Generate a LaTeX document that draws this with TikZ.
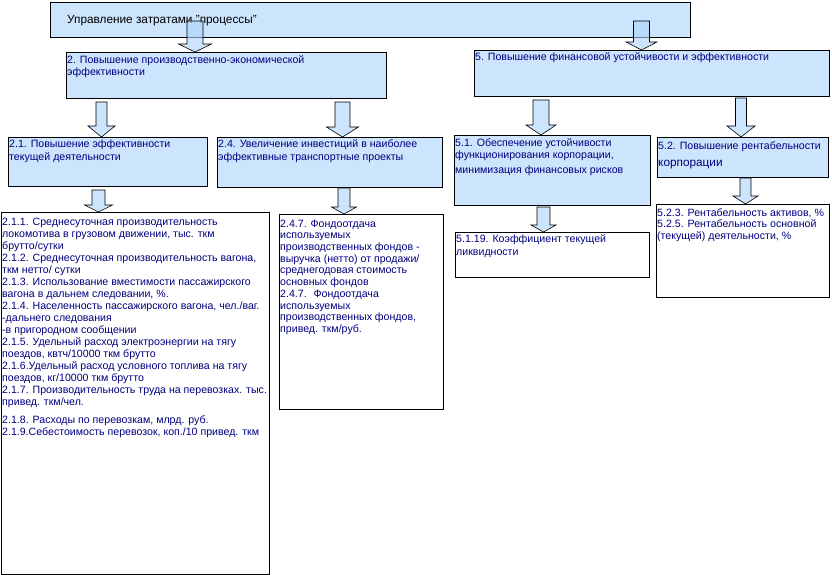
\documentclass[tikz,border=0pt]{standalone}
\usepackage{fontspec}
\setmainfont{Liberation Sans}
\usetikzlibrary{calc}
\definecolor{boxblue}{RGB}{204,228,252}
\definecolor{arrowblue}{RGB}{170,210,250}
\definecolor{txtblue}{RGB}{0,0,128}
\begin{document}
\begin{tikzpicture}[x=1pt,y=-1pt,
  box/.style={draw, line width=0.8pt, fill=boxblue, anchor=north west, inner sep=0pt},
  listbox/.style={draw, line width=0.8pt, fill=white, anchor=north west, inner sep=0pt},
  txt/.style={anchor=north west, align=left, inner sep=0pt, text=txtblue, font=\fontsize{10.6}{12}\selectfont},
  blockarrow/.style n args={3}{draw, line width=0.6pt, fill=arrowblue, fill opacity=0.6,
    to path={let \p1=(\tikztostart), \p2=(\tikztotarget) in
      (\x1-#1pt,\y1) -- (\x1+#1pt,\y1) -- (\x1+#1pt,\y2+#3pt) -- (\x1+#2pt,\y2+#3pt)
      -- (\x1,\y2) -- (\x1-#2pt,\y2+#3pt) -- (\x1-#1pt,\y2+#3pt) -- cycle}}]
\useasboundingbox (0,0) rectangle (832,575);
% blue boxes
\node[box, minimum width=640, minimum height=35] (top) at (50,2) {};
\node[box, minimum width=320, minimum height=46] (proc2) at (66,52) {};
\node[box, minimum width=355, minimum height=46] (proc5) at (474,50) {};
\node[box, minimum width=199, minimum height=49] (p21) at (8,137) {};
\node[box, minimum width=225, minimum height=50] (p24) at (217,137) {};
\node[box, minimum width=196, minimum height=70] (p51) at (454,135) {};
\node[box, minimum width=171, minimum height=40] (p52) at (657,137) {};
% white boxes
\node[listbox, minimum width=268, minimum height=362] (l21) at (1,212) {};
\node[listbox, minimum width=164, minimum height=195] (l24) at (279,214) {};
\node[listbox, minimum width=194, minimum height=45] (l519) at (455,232) {};
\node[listbox, minimum width=173, minimum height=93] (l52) at (656,204) {};
% texts
\node[anchor=base west, inner sep=0pt, font=\fontsize{11.8}{13}\selectfont] (ttop) at (67,24) {Управление затратами "процессы”};
\node[txt] (t2) at (67,55.5) {2. Повышение производственно-экономической\\эффективности};
\node[txt] (t5) at (475,52.5) {5. Повышение финансовой устойчивости и эффективности};
\node[txt, font=\fontsize{10.6}{13}\selectfont] (t21) at (9,139.5) {2.1. Повышение эффективности\\текущей деятельности};
\node[txt, font=\fontsize{10.6}{13}\selectfont] (t24) at (218,139.5) {2.4. Увеличение инвестиций в наиболее\\эффективные транспортные проекты};
\node[txt] (t51) at (455,138.5) {5.1. Обеспечение устойчивости\\функционирования корпорации,\\[3pt]минимизация финансовых рисков};
\node[txt] (t52) at (658,141.5) {5.2. Повышение рентабельности\\[5pt]{\fontsize{11.8}{13}\selectfont корпорации}};
\node[txt] (tl21) at (2,217.5) {2.1.1. Среднесуточная производительность\\
локомотива в грузовом движении, тыс. ткм\\
брутто/сутки\\
2.1.2. Среднесуточная производительность вагона,\\
ткм нетто/ сутки\\
2.1.3. Использование вместимости пассажирского\\
вагона в дальнем следовании, \%.\\
2.1.4. Населенность пассажирского вагона, чел./ваг.\\
-дальнего следования\\
-в пригородном сообщении\\
2.1.5. Удельный расход электроэнергии на тягу\\
поездов, квтч/10000 ткм брутто\\
2.1.6.Удельный расход условного топлива на тягу\\
поездов, кг/10000 ткм брутто\\
2.1.7. Производительность труда на перевозках. тыс.\\
привед. ткм/чел.\\[6pt]
2.1.8. Расходы по перевозкам, млрд. руб.\\
2.1.9.Себестоимость перевозок, коп./10 привед. ткм};
\node[txt, font=\fontsize{10.6}{11.7}\selectfont] (tl24) at (280,219.5) {2.4.7. Фондоотдача\\
используемых\\
производственных фондов -\\
выручка (нетто) от продажи/\\
среднегодовая стоимость\\
основных фондов\\
2.4.7.~ Фондоотдача\\
используемых\\
производственных фондов,\\
привед. ткм/руб.};
\node[txt, font=\fontsize{10.6}{13}\selectfont] (tl519) at (456,234) {5.1.19. Коэффициент текущей\\ликвидности};
\node[txt, font=\fontsize{10.6}{11.5}\selectfont] (tl52) at (657,208.5) {5.2.3. Рентабельность активов, \%\\5.2.5. Рентабельность основной\\(текущей) деятельности, \%};
% arrows
\coordinate (a1) at (195,21);
\coordinate (a2) at (641.5,21);
\coordinate (a3) at (101.5,102);
\coordinate (a4) at (342.5,102);
\coordinate (a5) at (541,100);
\coordinate (a6) at (741,98);
\coordinate (a7) at (98.5,190);
\coordinate (a8) at (344,188);
\coordinate (a9) at (543.5,207);
\coordinate (a10) at (745.5,178);
\draw[blockarrow={8}{16.5}{8}] (a1) to (a1 |- proc2.north);
\draw[blockarrow={8}{15.5}{8}] (a2) to (a2 |- proc5.north);
\draw[blockarrow={5.5}{13.5}{11}] (a3) to (a3 |- p21.north);
\draw[blockarrow={7.5}{16}{10}] (a4) to (a4 |- p24.north);
\draw[blockarrow={8}{15}{10}] (a5) to (a5 |- p51.north);
\draw[blockarrow={5.5}{14}{11}] (a6) to (a6 |- p52.north);
\draw[blockarrow={6.5}{14}{7}] (a7) to (a7 |- l21.north);
\draw[blockarrow={6}{12.5}{7}] (a8) to (a8 |- l24.north);
\draw[blockarrow={6.5}{12.5}{7}] (a9) to (a9 |- l519.north);
\draw[blockarrow={5.5}{12.5}{8}] (a10) to (a10 |- l52.north);
\end{tikzpicture}
\end{document}
